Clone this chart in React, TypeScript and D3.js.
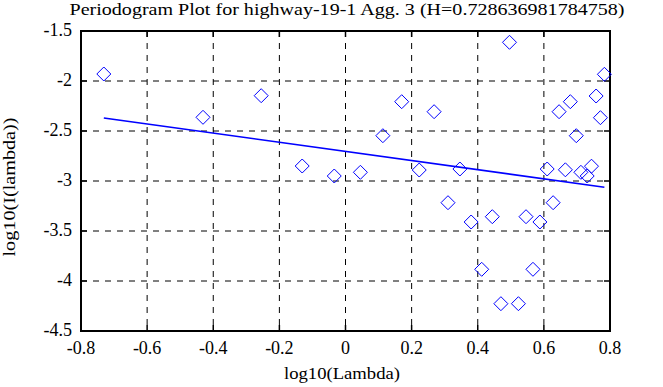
import React, { useEffect, useRef } from 'react';
import * as d3 from 'd3';

// periodogram points
const logLambda = [
  -0.731, -0.431, -0.255, -0.131, -0.034, 0.045, 0.113, 0.17, 0.223, 0.268, 0.31,
  0.346, 0.38, 0.412, 0.444, 0.47, 0.496, 0.523, 0.546, 0.567, 0.588, 0.61,
  0.628, 0.646, 0.665, 0.68, 0.698, 0.712, 0.731, 0.744, 0.758, 0.771, 0.783,
];
const logI = [
  -1.93, -2.363, -2.147, -2.85, -2.95, -2.913, -2.547, -2.207, -2.89, -2.307, -3.217,
  -2.88, -3.41, -3.883, -3.357, -4.227, -1.613, -4.227, -3.357, -3.883, -3.41, -2.88,
  -3.217, -2.307, -2.888, -2.207, -2.547, -2.913, -2.95, -2.852, -2.15, -2.367, -1.933,
];
// fitted line end points
const fitX = [-0.731, 0.783];
const fitY = [-2.37, -3.062];

const xTicks = [-0.8, -0.6, -0.4, -0.2, 0, 0.2, 0.4, 0.6, 0.8];
const yTicks = [-1.5, -2, -2.5, -3, -3.5, -4, -4.5];

const title = 'Periodogram Plot for highway-19-1 Agg. 3 (H=0.728636981784758)';

const W = 663;
const H = 387;
const margin = { top: 31, right: 53, bottom: 56, left: 81 };

export default function App() {
  const ref = useRef<SVGSVGElement>(null);

  useEffect(() => {
    const svg = d3.select(ref.current);
    svg.selectAll('*').remove();
    const font = '"Liberation Serif", "Times New Roman", serif';
    const w = W - margin.left - margin.right;
    const h = H - margin.top - margin.bottom;

    const x = d3.scaleLinear().domain([-0.8, 0.8]).range([0, w]);
    const y = d3.scaleLinear().domain([-4.5, -1.5]).range([h, 0]);

    const g = svg.append('g').attr('transform', `translate(${margin.left},${margin.top})`);

    // dashed grid
    g.selectAll('.gx')
      .data(xTicks.slice(1, -1))
      .enter().append('line')
      .attr('x1', d => x(d)).attr('x2', d => x(d))
      .attr('y1', 0).attr('y2', h)
      .attr('stroke', 'black').attr('stroke-dasharray', '6,6');
    g.selectAll('.gy')
      .data(yTicks.slice(1, -1))
      .enter().append('line')
      .attr('y1', d => y(d)).attr('y2', d => y(d))
      .attr('x1', 0).attr('x2', w)
      .attr('stroke', 'black').attr('stroke-dasharray', '6,6');

    // inward ticks on all four sides
    const tl = 6;
    xTicks.forEach(t => {
      g.append('line').attr('x1', x(t)).attr('x2', x(t)).attr('y1', h).attr('y2', h - tl)
        .attr('stroke', 'black').attr('stroke-width', 1.5);
      g.append('line').attr('x1', x(t)).attr('x2', x(t)).attr('y1', 0).attr('y2', tl)
        .attr('stroke', 'black').attr('stroke-width', 1.5);
    });
    yTicks.forEach(t => {
      g.append('line').attr('y1', y(t)).attr('y2', y(t)).attr('x1', 0).attr('x2', tl)
        .attr('stroke', 'black').attr('stroke-width', 1.5);
      g.append('line').attr('y1', y(t)).attr('y2', y(t)).attr('x1', w).attr('x2', w - tl)
        .attr('stroke', 'black').attr('stroke-width', 1.5);
    });

    g.append('rect')
      .attr('width', w).attr('height', h)
      .attr('fill', 'none').attr('stroke', 'black').attr('stroke-width', 2);

    // tick labels
    g.selectAll('.xl')
      .data(xTicks)
      .enter().append('text')
      .attr('x', d => x(d)).attr('y', h + 23)
      .attr('text-anchor', 'middle')
      .style('font-family', font).style('font-size', '18px')
      .text(d => String(d));
    g.selectAll('.yl')
      .data(yTicks)
      .enter().append('text')
      .attr('x', -9).attr('y', d => y(d) + 5)
      .attr('text-anchor', 'end')
      .style('font-family', font).style('font-size', '18px')
      .text(d => String(d));

    // fitted line
    const line = d3.line<number>().x(d => x(d)).y((d, i) => y(fitY[i]));
    g.append('path')
      .datum(fitX)
      .attr('d', line)
      .attr('fill', 'none').attr('stroke', '#0000ff').attr('stroke-width', 1.6);

    // diamonds
    const s = 7;
    g.selectAll('.pt')
      .data(logLambda)
      .enter().append('path')
      .attr('d', (d, i) => {
        const cx = x(d), cy = y(logI[i]);
        return `M${cx},${cy - s}L${cx + s},${cy}L${cx},${cy + s}L${cx - s},${cy}Z`;
      })
      .attr('fill', 'none').attr('stroke', '#0000ff').attr('stroke-width', 1);

    // titles
    svg.append('text')
      .attr('x', 347).attr('y', 15)
      .attr('text-anchor', 'middle')
      .attr('textLength', 555).attr('lengthAdjust', 'spacingAndGlyphs')
      .style('font-family', font).style('font-size', '17px')
      .text(title);
    svg.append('text')
      .attr('x', 342).attr('y', 379)
      .attr('text-anchor', 'middle')
      .attr('textLength', 116).attr('lengthAdjust', 'spacingAndGlyphs')
      .style('font-family', font).style('font-size', '17px')
      .text('log10(Lambda)');
    svg.append('text')
      .attr('transform', 'translate(15,187) rotate(-90)')
      .attr('text-anchor', 'middle')
      .attr('textLength', 139).attr('lengthAdjust', 'spacingAndGlyphs')
      .style('font-family', font).style('font-size', '17px')
      .text('log10(I(lambda))');
  }, []);

  return (
    <svg ref={ref} width={W} height={H}
      style={{ position: 'absolute', left: 0, top: 0, background: 'white' }} />
  );
}
